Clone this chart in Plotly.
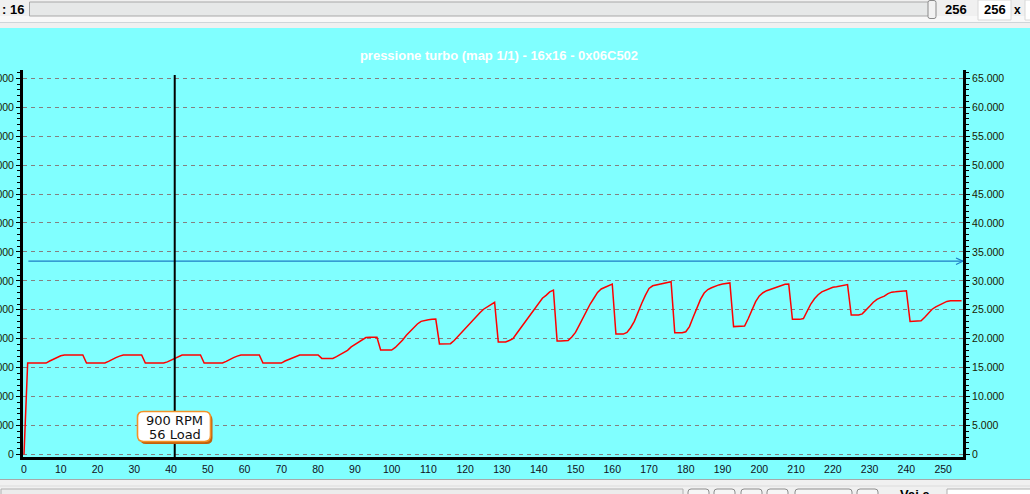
import plotly.graph_objects as go

# ---------------- data ----------------
cell_index = list(range(256))

pressure = [
    0,
    # row 0 (1-16)
    15800, 15800, 15800, 15800, 15800, 15800, 16150, 16450, 16800, 17050, 17200, 17200, 17200, 17200, 17200, 17200,
    # row 1 (17-32)
    15800, 15800, 15800, 15800, 15800, 15800, 16100, 16450, 16750, 17000, 17200, 17200, 17200, 17200, 17200, 17200,
    # row 2 (33-48)
    15800, 15800, 15800, 15800, 15800, 15800, 16000, 16300, 16600, 16950, 17200, 17200, 17200, 17200, 17200, 17200,
    # row 3 (49-64)
    15800, 15800, 15800, 15800, 15800, 15800, 16100, 16450, 16750, 17000, 17200, 17200, 17200, 17200, 17200, 17200,
    # row 4 (65-80)
    15800, 15800, 15800, 15800, 15800, 15800, 16150, 16400, 16700, 17000, 17200, 17200, 17200, 17200, 17200, 17200,
    # row 5 (81-96)
    16600, 16600, 16600, 16600, 16900, 17300, 17650, 18000, 18600, 19000, 19350, 19800, 20200, 20250, 20250, 20250,
    # row 6 (97-112)
    18050, 18050, 18050, 18050, 18500, 19100, 19800, 20600, 21250, 21900, 22550, 23000, 23200, 23300, 23370, 23400,
    # row 7 (113-128)
    19100, 19100, 19100, 19150, 19700, 20400, 21000, 21700, 22500, 23200, 23850, 24500, 25100, 25500, 25750, 26300,
    # row 8 (129-144)
    19450, 19450, 19450, 19700, 20000, 20900, 21800, 22600, 23500, 24400, 25300, 26200, 27000, 27500, 28100, 28400,
    # row 9 (145-160)
    19600, 19600, 19600, 19700, 20300, 21100, 22300, 23600, 24800, 26000, 27000, 28000, 28600, 28900, 29200, 29450,
    # row 10 (161-176)
    20800, 20800, 20800, 21100, 21900, 23000, 24700, 26100, 27500, 28700, 29150, 29300, 29450, 29600, 29800, 29850,
    # row 11 (177-192)
    21050, 21050, 21050, 21200, 22100, 23700, 25300, 26800, 27900, 28500, 28800, 29100, 29300, 29450, 29600, 29650,
    # row 12 (193-208)
    22100, 22100, 22100, 22200, 23500, 25000, 26400, 27400, 27950, 28300, 28500, 28700, 28900, 29150, 29400, 29450,
    # row 13 (209-224)
    23350, 23350, 23350, 23500, 24800, 26000, 26900, 27600, 28100, 28400, 28700, 28900, 29000, 29100, 29250, 29350,
    # row 14 (225-240)
    24100, 24100, 24100, 24300, 24900, 25600, 26300, 26800, 27100, 27350, 27800, 28050, 28100, 28200, 28250, 28300,
    # row 15 (241-255)
    23000, 23000, 23000, 23100, 23700, 24500, 25100, 25500, 25800, 26100, 26450, 26550, 26550, 26550, 26550,
]

x_tick_values = [0, 10, 20, 30, 40, 50, 60, 70, 80, 90, 100, 110, 120, 130, 140, 150, 160, 170, 180, 190,
                 200, 210, 220, 230, 240, 250]
x_tick_labels = [str(v) for v in x_tick_values]

y_tick_values = [0, 5000, 10000, 15000, 20000, 25000, 30000, 35000, 40000, 45000, 50000, 55000, 60000, 65000]
y_tick_labels = ["0", "5.000", "10.000", "15.000", "20.000", "25.000", "30.000", "35.000", "40.000",
                 "45.000", "50.000", "55.000", "60.000", "65.000"]

limit_value = 33400
limit_x = [1.2, 255.4]
cursor_index = 41
tooltip_lines = ["900 RPM", "56 Load"]
title_text = "pressione turbo (map 1/1) - 16x16 - 0x06C502"

# ---------------- geometry ----------------
W, H = 1030, 494
ML, MR, MT, MB = 23, 67, 70, 37
PW = W - ML - MR
PH = H - MT - MB


def pxx(px):
    return (px - ML) / PW


def pyy(py):
    return (H - MB - py) / PH


def rect(x0, y0, x1, y1, fill, line=None, lw=1):
    return dict(type="rect", xref="paper", yref="paper",
                x0=pxx(x0), x1=pxx(x1), y0=pyy(y1), y1=pyy(y0),
                fillcolor=fill, line=dict(color=line or fill, width=lw if line else 0),
                layer="above")


def hline(x0, x1, y, color, lw=1):
    return dict(type="line", xref="paper", yref="paper", x0=pxx(x0), x1=pxx(x1),
                y0=pyy(y), y1=pyy(y), line=dict(color=color, width=lw), layer="above")


def rounded_path(x0, y0, x1, y1, r):
    rx, ry = r / PW, r / PH
    X0, X1, Y0, Y1 = pxx(x0), pxx(x1), pyy(y1), pyy(y0)
    return (f"M {X0+rx},{Y1} L {X1-rx},{Y1} Q {X1},{Y1} {X1},{Y1-ry} "
            f"L {X1},{Y0+ry} Q {X1},{Y0} {X1-rx},{Y0} L {X0+rx},{Y0} "
            f"Q {X0},{Y0} {X0},{Y0+ry} L {X0},{Y1-ry} Q {X0},{Y1} {X0+rx},{Y1} Z")


FONT = "Liberation Sans, Arial, sans-serif"
CYAN = "#80ffff"

fig = go.Figure()

fig.add_trace(go.Scatter(x=cell_index, y=pressure, mode="lines",
                         line=dict(color="#ff0000", width=1.5), hoverinfo="skip",
                         showlegend=False))
fig.add_trace(go.Scatter(x=limit_x, y=[limit_value, limit_value], mode="lines", yaxis="y2",
                         line=dict(color="#1c7cc4", width=1.3), hoverinfo="skip",
                         showlegend=False))

shapes = []
# arrow chevron at end of limit line
ax_end = limit_x[1]
shapes.append(dict(type="path", xref="x", yref="y",
                   path=f"M {ax_end-1.9},{limit_value+560} L {ax_end},{limit_value} L {ax_end-1.9},{limit_value-560}",
                   line=dict(color="#1c7cc4", width=1.2), layer="above"))
# cursor
shapes.append(dict(type="line", xref="x", yref="paper", x0=cursor_index, x1=cursor_index,
                   y0=pyy(457), y1=pyy(75), line=dict(color="#000000", width=2), layer="above"))
# tooltip shadow + box
shapes.append(dict(type="path", xref="paper", yref="paper", path=rounded_path(140, 414, 212.5, 444, 6),
                   fillcolor="#c2600c", line=dict(color="#c2600c", width=0), layer="above"))
shapes.append(dict(type="path", xref="paper", yref="paper", path=rounded_path(137.5, 411.5, 210.5, 441.5, 6),
                   fillcolor="#ffffff", line=dict(color="#f39227", width=1.6), layer="above"))

# top toolbar
shapes.append(rect(0, 0, W, 28, "#f0f0f0"))
shapes.append(rect(0, 16, W, 22, "#f8f8f8"))
shapes.append(hline(0, W, 22.5, "#cfd5d9", 1.2))
shapes.append(rect(29.5, 2, 929, 16, "#e6e8e8", "#a8a8a8", 1))
shapes.append(dict(type="path", xref="paper", yref="paper", path=rounded_path(928, 0.5, 936, 18.5, 2),
                   fillcolor="#f2f2f2", line=dict(color="#8a8a8a", width=1), layer="above"))
shapes.append(rect(978, 0, 1011, 20, "#ffffff", "#d8d8d8", 1))
shapes.append(rect(1025, 0, 1034, 20, "#ffffff", "#d8d8d8", 1))

# bottom bar
shapes.append(rect(0, 479, W, H + 2, "#f0f0f0"))
shapes.append(hline(0, W, 479.5, "#a8a8a8", 1))
shapes.append(hline(0, W, 486, "#dcdcdc", 1))
shapes.append(rect(1, 489, 683, H + 3, "#ececec", "#b0b0b0", 1))
for bx0, bx1 in [(688, 709), (714, 735), (741, 762), (767, 788), (795, 852), (857, 878)]:
    shapes.append(dict(type="path", xref="paper", yref="paper", path=rounded_path(bx0, 489, bx1, H + 6, 3),
                       fillcolor="#f6f6f6", line=dict(color="#8c8c8c", width=1), layer="above"))
shapes.append(rect(947, 489, W + 2, H + 3, "#ffffff", "#b0b0b0", 1))

tip_font = dict(family="DejaVu Sans, Verdana", size=13, color="#111111")
annotations = [
    dict(xref="paper", yref="paper", x=pxx(174.5), y=pyy(420), text=tooltip_lines[0], showarrow=False,
         xanchor="center", yanchor="middle", font=tip_font),
    dict(xref="paper", yref="paper", x=pxx(174.5), y=pyy(434), text=tooltip_lines[1], showarrow=False,
         xanchor="center", yanchor="middle", font=tip_font),
    dict(xref="paper", yref="paper", x=pxx(0), y=pyy(10), text="<b>: 16</b>", showarrow=False,
         xanchor="left", yanchor="middle", font=dict(family=FONT, size=13, color="#000000")),
    dict(xref="paper", yref="paper", x=pxx(956), y=pyy(10), text="<b>256</b>", showarrow=False,
         xanchor="center", yanchor="middle", font=dict(family=FONT, size=13, color="#000000")),
    dict(xref="paper", yref="paper", x=pxx(982), y=pyy(10), text="<b>256</b>", showarrow=False,
         xanchor="left", yanchor="middle", font=dict(family=FONT, size=13, color="#000000")),
    dict(xref="paper", yref="paper", x=pxx(1017), y=pyy(10), text="<b>x</b>", showarrow=False,
         xanchor="center", yanchor="middle", font=dict(family=FONT, size=12, color="#000000")),
    dict(xref="paper", yref="paper", x=pxx(898), y=pyy(485), text="<b>Vai a</b>", showarrow=False,
         xanchor="left", yanchor="top", font=dict(family=FONT, size=13, color="#000000")),
]

axis_font = dict(family=FONT, size=10.5, color="#1a1a00")

fig.update_layout(
    template="none",
    width=W, height=H,
    margin=dict(l=ML, r=MR, t=MT, b=MB, pad=0, autoexpand=False),
    paper_bgcolor=CYAN, plot_bgcolor=CYAN,
    font=dict(family=FONT, size=11, color="#000000"),
    title=dict(text=f"<b>{title_text}</b>", x=499 / W, y=1 - 55 / H, xanchor="center", yanchor="middle",
               xref="container", yref="container", font=dict(family=FONT, size=13, color="#ffffff")),
    showlegend=False,
    hovermode=False,
    xaxis=dict(range=[-0.27, 255.4], tickmode="array", tickvals=x_tick_values, ticktext=x_tick_labels,
               showgrid=False, zeroline=False, showline=True, linecolor="#000000", linewidth=3,
               ticks="", tickfont=dict(family=FONT, size=10.5, color="#101020"), automargin=False,
               fixedrange=True),
    yaxis=dict(range=[-432, 66434], tickmode="array", tickvals=y_tick_values, ticktext=y_tick_labels,
               showgrid=True, gridcolor="#858080", gridwidth=1, griddash="4px,4px", zeroline=False,
               showline=True, linecolor="#000000", linewidth=3, ticks="outside", ticklen=4,
               tickcolor="#000000", tickwidth=1, tickfont=axis_font, automargin=False,
               minor=dict(tickmode="linear", tick0=0, dtick=1000, ticks="outside", ticklen=3,
                          tickcolor="#000000", showgrid=False),
               fixedrange=True),
    yaxis2=dict(range=[-432, 66434], overlaying="y", side="right", anchor="x", tickmode="array",
                tickvals=y_tick_values, ticktext=y_tick_labels, showgrid=False, zeroline=False,
                showline=True, linecolor="#000000", linewidth=3, ticks="outside", ticklen=4,
                tickcolor="#000000", tickwidth=1, tickfont=axis_font, automargin=False,
                minor=dict(tickmode="linear", tick0=0, dtick=1000, ticks="outside", ticklen=3,
                           tickcolor="#000000", showgrid=False),
                fixedrange=True),
    shapes=shapes,
    annotations=annotations,
)

fig.write_html("out.html", config={"displayModeBar": False},
               post_script="document.body.style.margin='0';document.body.style.overflow='hidden';")
